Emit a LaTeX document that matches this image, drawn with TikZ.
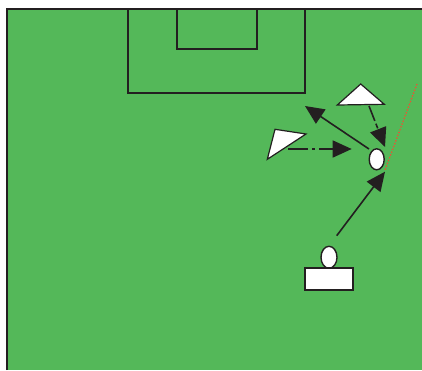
\documentclass[tikz,border=0pt]{standalone}
\usetikzlibrary{arrows.meta,shapes.geometric}
\definecolor{pitch}{RGB}{84,184,89}
\definecolor{lineclr}{RGB}{35,31,32}
\definecolor{offside}{RGB}{240,80,50}
\tikzset{
  mark line/.style={draw=lineclr,line width=1.5pt},
  player/.style={ellipse,draw=lineclr,fill=white,line width=1.4pt,inner sep=0pt},
  cone/.style={draw=lineclr,fill=white,line width=1.2pt,line join=miter},
  move/.style={draw=lineclr,line width=1.6pt,-{Triangle[length=19pt,width=17pt]}},
}
\begin{document}
\begin{tikzpicture}[x=1pt,y=-1pt]
\useasboundingbox (0,0) rectangle (422,370);
% pitch
\fill[pitch] (7,9) rectangle (422,370);
\draw[mark line] (7,370) -- (7,9) -- (422,9);
\draw[mark line] (128,9) -- (128,93) -- (305,93) -- (305,9);
\draw[mark line] (177,9) -- (177,49) -- (257,49) -- (257,9);
% offside line
\draw[offside,line width=1.2pt,dash pattern=on 1.4pt off 1.6pt] (417,84) -- (385,170);
% cones (defenders)
\coordinate (ta) at (360.7,84);
\coordinate (tb) at (337.3,105);
\coordinate (tc) at (384.3,104.3);
\draw[cone] (ta) -- (tc) -- (tb) -- cycle;
\coordinate (la) at (267.3,159.3);
\coordinate (lb) at (275,129.3);
\coordinate (lc) at (306,134);
\draw[cone] (la) -- (lb) -- (lc) -- cycle;
% players
\node[player,minimum width=15pt,minimum height=21pt] (p1) at (376.7,159.3) {};
\node[player,minimum width=16pt,minimum height=22pt] (p2) at (329,257.3) {};
\node[draw=lineclr,fill=white,line width=1.4pt,minimum width=48pt,minimum height=22pt,inner sep=0pt] (box) at (328.8,278.8) {};
% arrows
\coordinate (s1) at (336.7,235.7);
\coordinate (e1) at (385,171.7);
\draw[move] (s1) -- (e1);
\coordinate (s2) at (369,149);
\coordinate (e2) at (305,106);
\draw[move] (s2) -- (e2);
\coordinate (s3) at (369,106);
\coordinate (e3) at (385,147);
\draw[move,dash pattern=on 16pt off 3pt on 5pt off 3pt] (s3) -- (e3);
\coordinate (s4) at (288.3,149);
\coordinate (e4) at (351.7,149);
\draw[move,dash pattern=on 20pt off 4pt on 3pt off 4pt] (s4) -- (e4);
\end{tikzpicture}
\end{document}
